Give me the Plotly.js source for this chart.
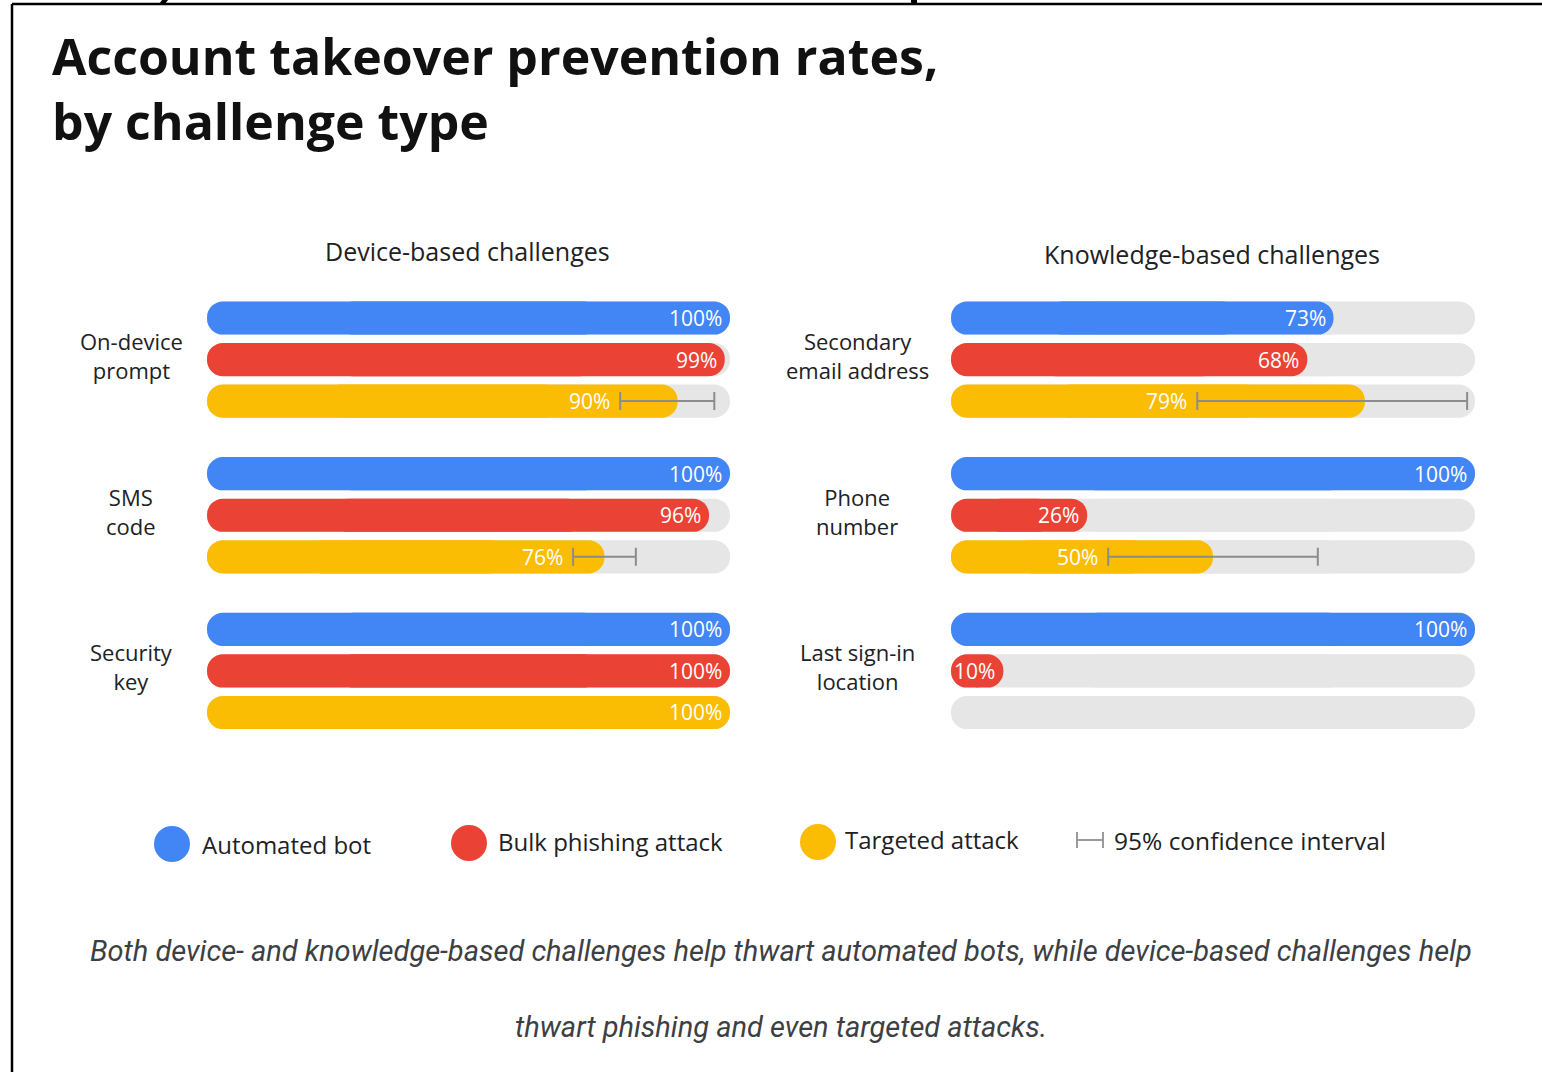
<!DOCTYPE html>
<html><head><meta charset="utf-8">
<script src="https://cdn.plot.ly/plotly-3.0.1.min.js"></script>
<style>html,body{margin:0;padding:0;background:#fff;}#chart{width:1542px;height:1072px;}</style>
</head><body><div id="chart"></div>
<script>
// ---- data ----
const seriesNames = ['Automated bot', 'Bulk phishing attack', 'Targeted attack'];
const panelTitles = ['Device-based challenges', 'Knowledge-based challenges'];
const deviceChallenges = ['On-device<br>prompt', 'SMS<br>code', 'Security<br>key'];
const knowledgeChallenges = ['Secondary<br>email address', 'Phone<br>number', 'Last sign-in<br>location'];
const deviceBot = [100, 100, 100];
const devicePhishing = [99, 96, 100];
const deviceTargeted = [90, 76, 100];
const deviceTargetedLow = [79, 70, null];
const deviceTargetedHigh = [97, 82, null];
const knowledgeBot = [73, 100, 100];
const knowledgePhishing = [68, 26, 10];
const knowledgeTargeted = [79, 50, null];
const knowledgeTargetedLow = [47, 30, null];
const knowledgeTargetedHigh = [98.5, 70, null];
const ciLabel = '95% confidence interval';
const chartTitle = 'Account takeover prevention rates,<br>by challenge type';
const captionLines = ['Both device- and knowledge-based challenges help thwart automated bots, while device-based challenges help',
                      'thwart phishing and even targeted attacks.'];

// ---- styling / layout helpers ----
const W = 1542, H = 1072;
const px = x => x / W, py = y => 1 - y / H;
const colors = ['#4285F4', '#EA4335', '#FBBC04'];
const trackColor = '#E6E6E6';
const LBL = 'Open Sans, sans-serif';
const TXT = '#202124';
const rowY = (g, s) => g * 3.75 + s;

const panels = [
  {xa: 'x', cats: deviceChallenges, series: [deviceBot, devicePhishing, deviceTargeted], low: deviceTargetedLow, high: deviceTargetedHigh, labelX: 131},
  {xa: 'x2', cats: knowledgeChallenges, series: [knowledgeBot, knowledgePhishing, knowledgeTargeted], low: knowledgeTargetedLow, high: knowledgeTargetedHigh, labelX: 857}
];

const traces = [];
const annotations = [];

function pill(xa, vals, ys, color, name) {
  // two overlapping pieces so that both ends are rounded
  const v = [], y = [];
  vals.forEach((val, i) => { if (val != null) { v.push(val); y.push(ys[i]); } });
  const common = {type: 'bar', orientation: 'h', xaxis: xa, yaxis: 'y', y: y, width: 0.8,
    marker: {color: color, cornerradius: '50%', line: {width: 0}}, hoverinfo: 'skip', showlegend: false, name: name};
  traces.push(Object.assign({}, common, {base: v.map(a => a * 0.25), x: v.map(a => a * 0.75)}));
  traces.push(Object.assign({}, common, {base: v.map(a => a * 0.75), x: v.map(a => -a * 0.75)}));
}

panels.forEach(p => {
  const allY = [], full = [];
  p.cats.forEach((c, g) => { for (let s = 0; s < 3; s++) { allY.push(rowY(g, s)); full.push(100); } });
  pill(p.xa, full, allY, trackColor, 'track');
});
panels.forEach(p => {
  p.series.forEach((vals, s) => {
    pill(p.xa, vals, vals.map((v, g) => rowY(g, s)), colors[s], seriesNames[s]);
    vals.forEach((v, g) => {
      if (v == null) return;
      const hasCI = (s === 2 && p.low[g] != null);
      annotations.push({xref: p.xa, yref: 'y', x: hasCI ? p.low[g] : v, y: rowY(g, s), text: v + '%', showarrow: false,
        xanchor: 'right', yanchor: 'middle', xshift: hasCI ? -8 : -6,
        font: {family: LBL, size: 21, color: '#ffffff'}});
    });
  });
  // confidence intervals
  const ex = [], ey = [], ep = [], em = [];
  p.series[2].forEach((v, g) => {
    if (v != null && p.low[g] != null) { ex.push(v); ey.push(rowY(g, 2)); ep.push(p.high[g] - v); em.push(v - p.low[g]); }
  });
  traces.push({type: 'scatter', mode: 'markers', xaxis: p.xa, yaxis: 'y', x: ex, y: ey,
    marker: {size: 1, opacity: 0}, hoverinfo: 'skip', showlegend: false,
    error_x: {type: 'data', symmetric: false, array: ep, arrayminus: em, color: '#8c8c8c', thickness: 2, width: 9}});
  // category labels
  p.cats.forEach((c, g) => {
    annotations.push({xref: 'paper', yref: 'y', x: px(p.labelX), y: rowY(g, 1), yshift: 4,
      text: c, showarrow: false, xanchor: 'center', yanchor: 'middle', align: 'center',
      font: {family: LBL, size: 22, color: TXT}});
  });
});

// panel titles
annotations.push({xref: 'paper', yref: 'paper', x: px(468), y: py(251), text: panelTitles[0], showarrow: false,
  xanchor: 'center', yanchor: 'middle', font: {family: LBL, size: 25, color: TXT}});
annotations.push({xref: 'paper', yref: 'paper', x: px(1212), y: py(254), text: panelTitles[1], showarrow: false,
  xanchor: 'center', yanchor: 'middle', font: {family: LBL, size: 25, color: TXT}});

// legend
const legendDots = [{cx: 172, cy: 844, tx: 200, ty: 844}, {cx: 469, cy: 843, tx: 496, ty: 841}, {cx: 818, cy: 842, tx: 843, ty: 839}];
const shapes = [];
legendDots.forEach((d, i) => {
  shapes.push({type: 'circle', xref: 'paper', yref: 'paper', x0: px(d.cx - 18), x1: px(d.cx + 18), y0: py(d.cy + 18), y1: py(d.cy - 18),
    fillcolor: colors[i], line: {width: 0}});
  annotations.push({xref: 'paper', yref: 'paper', x: px(d.tx), y: py(d.ty), text: seriesNames[i], showarrow: false,
    xanchor: 'left', yanchor: 'middle', font: {family: LBL, size: 24, color: TXT}});
});
shapes.push({type: 'line', xref: 'paper', yref: 'paper', x0: px(1077), x1: px(1103), y0: py(840), y1: py(840), line: {color: '#9a9a9a', width: 2}});
shapes.push({type: 'line', xref: 'paper', yref: 'paper', x0: px(1077), x1: px(1077), y0: py(832), y1: py(848), line: {color: '#9a9a9a', width: 2}});
shapes.push({type: 'line', xref: 'paper', yref: 'paper', x0: px(1103), x1: px(1103), y0: py(832), y1: py(848), line: {color: '#9a9a9a', width: 2}});
annotations.push({xref: 'paper', yref: 'paper', x: px(1112), y: py(840), text: ciLabel, showarrow: false,
  xanchor: 'left', yanchor: 'middle', font: {family: LBL, size: 24.5, color: TXT}});

// caption
captionLines.forEach((ln, k) => {
  annotations.push({xref: 'paper', yref: 'paper', x: px(781), y: py(951 + k * 76), text: '<i>' + ln + '</i>', showarrow: false,
    xanchor: 'center', yanchor: 'middle', font: {family: 'Roboto, sans-serif', size: 29, color: '#3c4043'}});
});

// frame borders and clipped fragments at top
shapes.push({type: 'line', xref: 'paper', yref: 'paper', x0: px(12), x1: 1, y0: py(4), y1: py(4), line: {color: '#000', width: 2.5}});
shapes.push({type: 'line', xref: 'paper', yref: 'paper', x0: px(12), x1: px(12), y0: py(4), y1: 0, line: {color: '#000', width: 2.5}});
shapes.push({type: 'path', xref: 'paper', yref: 'paper', path: `M ${px(162)} ${py(0)} L ${px(168)} ${py(0)} L ${px(165)} ${py(4)} L ${px(159)} ${py(4)} Z`, fillcolor: '#000', line: {width: 0}});
shapes.push({type: 'rect', xref: 'paper', yref: 'paper', x0: px(911), x1: px(917), y0: py(4), y1: py(0), fillcolor: '#000', line: {width: 0}});

const layout = {
  width: W, height: H,
  margin: {l: 0, r: 0, t: 0, b: 0},
  paper_bgcolor: '#ffffff', plot_bgcolor: '#ffffff',
  barmode: 'overlay',
  showlegend: false,
  title: {text: chartTitle, x: px(52), xref: 'paper', xanchor: 'left', y: py(74.5), yref: 'paper', yanchor: 'middle',
    font: {family: 'Open Sans, sans-serif', size: 50, weight: 700, color: '#111111'}},
  xaxis: {domain: [px(207), px(730)], range: [0, 100], visible: false, fixedrange: true},
  xaxis2: {domain: [px(951), px(1475)], range: [0, 100], visible: false, fixedrange: true, anchor: 'y'},
  yaxis: {domain: [py(733.25), py(297.25)], range: [10, -0.5], visible: false, fixedrange: true},
  annotations: annotations,
  shapes: shapes
};

Plotly.newPlot('chart', traces, layout, {displayModeBar: false, staticPlot: true});
</script>
</body></html>
